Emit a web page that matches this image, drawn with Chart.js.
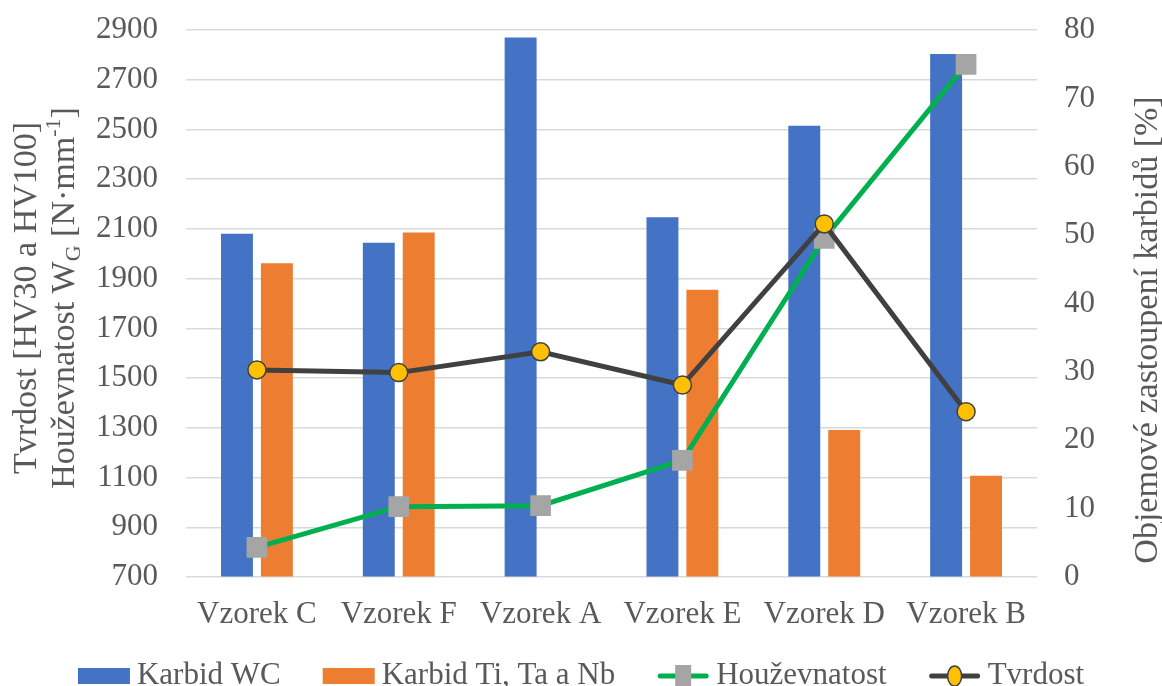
<!DOCTYPE html>
<html>
<head>
<meta charset="utf-8">
<script src="https://cdn.jsdelivr.net/npm/chart.js@4.4.1/dist/chart.umd.min.js"></script>
<style>
  html, body { margin: 0; padding: 0; background: #ffffff; }
  #wrap { width: 1162px; height: 686px; }
</style>
</head>
<body>
<div id="wrap"><canvas id="c" width="1162" height="686"></canvas></div>
<script>
// Samples and measured values
const categories = ['Vzorek C', 'Vzorek F', 'Vzorek A', 'Vzorek E', 'Vzorek D', 'Vzorek B'];
const karbidWC = [50.2, 48.9, 78.9, 52.6, 66.0, 76.5];          // % (right axis)
const karbidTiTaNb = [45.9, 50.4, null, 42.0, 21.5, 14.8];      // % (right axis)
const houzevnatost = [819, 983, 987, 1169, 2062, 2762];         // N·mm^-1 (left axis)
const tvrdost = [1533, 1522, 1606, 1472, 2120, 1365];           // HV (left axis)
const leftTicks = [700, 900, 1100, 1300, 1500, 1700, 1900, 2100, 2300, 2500, 2700, 2900];
const rightTicks = [0, 10, 20, 30, 40, 50, 60, 70, 80];

const FONT = '"Liberation Serif", "Times New Roman", serif';
const TEXT = '#595959';
const TICK_SIZE = 31;

// Axis titles with sub/superscripts, and the legend, drawn on the canvas
const decorations = {
  id: 'decorations',
  afterDraw(chart) {
    const ctx = chart.ctx;
    ctx.save();
    ctx.fillStyle = TEXT;
    ctx.textBaseline = 'alphabetic';

    // rich text run: [{t, size, dy}]
    function runWidth(parts) {
      let w = 0;
      parts.forEach(p => { ctx.font = p.size + 'px ' + FONT; w += ctx.measureText(p.t).width; });
      return w;
    }
    function drawRun(parts, x0) {
      let x = x0;
      parts.forEach(p => {
        ctx.font = p.size + 'px ' + FONT;
        ctx.fillText(p.t, x, p.dy || 0);
        x += ctx.measureText(p.t).width;
      });
    }
    function verticalRun(parts, baseX, centerY) {
      ctx.save();
      ctx.translate(baseX, centerY);
      ctx.rotate(-Math.PI / 2);
      const w = runWidth(parts);
      drawRun(parts, -w / 2);
      ctx.restore();
    }

    const s = 34;
    verticalRun([{ t: 'Tvrdost [HV30 a HV100]', size: s }], 36, 298);
    verticalRun([
      { t: 'Houževnatost W', size: s },
      { t: 'G', size: 22, dy: 6 },
      { t: ' [N·mm', size: s },
      { t: '-1', size: 22, dy: -14 },
      { t: ']', size: s }
    ], 74, 298);
    verticalRun([{ t: 'Objemové zastoupení karbidů [%]', size: s }], 1157, 330);

    // legend
    const items = [
      { kind: 'box', color: '#4472C4', text: 'Karbid WC' },
      { kind: 'box', color: '#ED7D31', text: 'Karbid Ti, Ta a Nb' },
      { kind: 'line', color: '#00B050', marker: 'rect', mcolor: '#A5A5A5', text: 'Houževnatost' },
      { kind: 'line', color: '#404040', marker: 'circle', mcolor: '#FFC000', text: 'Tvrdost' }
    ];
    const symW = 52, gapText = 7, gapItem = 42, ly = 676;
    ctx.font = TICK_SIZE + 'px ' + FONT;
    let total = 0;
    items.forEach((it, i) => {
      it.tw = ctx.measureText(it.text).width;
      total += symW + gapText + it.tw + (i < items.length - 1 ? gapItem : 0);
    });
    let x = (chart.width - total) / 2;
    items.forEach(it => {
      if (it.kind === 'box') {
        ctx.fillStyle = it.color;
        ctx.fillRect(x, ly - 8, symW, 16);
      } else {
        ctx.strokeStyle = it.color;
        ctx.lineWidth = 5;
        ctx.lineCap = 'round';
        ctx.beginPath();
        ctx.moveTo(x + 3, ly);
        ctx.lineTo(x + symW - 3, ly);
        ctx.stroke();
        const cx = x + symW / 2;
        if (it.marker === 'rect') {
          ctx.fillStyle = it.mcolor;
          ctx.fillRect(cx - 8, ly - 11, 16, 22);
        } else {
          ctx.fillStyle = it.mcolor;
          ctx.strokeStyle = '#404040';
          ctx.lineWidth = 1.5;
          ctx.beginPath();
          ctx.ellipse(cx, ly, 7, 10, 0, 0, Math.PI * 2);
          ctx.fill();
          ctx.stroke();
        }
      }
      ctx.fillStyle = TEXT;
      ctx.font = TICK_SIZE + 'px ' + FONT;
      ctx.textBaseline = 'middle';
      ctx.fillText(it.text, x + symW + gapText, ly);
      x += symW + gapText + it.tw + gapItem;
    });
    ctx.restore();
  }
};

const plainTick = v => String(v);

new Chart(document.getElementById('c'), {
  type: 'bar',
  data: {
    labels: categories,
    datasets: [
      {
        type: 'line', label: 'Tvrdost', data: tvrdost, yAxisID: 'y', order: 0,
        borderColor: '#404040', borderWidth: 5, pointStyle: 'circle', pointRadius: 9,
        pointBackgroundColor: '#FFC000', pointBorderColor: '#404040', pointBorderWidth: 1.5,
        tension: 0, fill: false
      },
      {
        type: 'line', label: 'Houževnatost', data: houzevnatost, yAxisID: 'y', order: 1,
        borderColor: '#00B050', borderWidth: 5, pointStyle: 'rect', pointRadius: 14.6,
        pointBackgroundColor: '#A5A5A5', pointBorderWidth: 0, pointBorderColor: '#A5A5A5',
        tension: 0, fill: false
      },
      {
        label: 'Karbid WC', data: karbidWC, yAxisID: 'y1', order: 2,
        backgroundColor: '#4472C4', barPercentage: 0.8, categoryPercentage: 0.563
      },
      {
        label: 'Karbid Ti, Ta a Nb', data: karbidTiTaNb, yAxisID: 'y1', order: 2,
        backgroundColor: '#ED7D31', barPercentage: 0.8, categoryPercentage: 0.563
      }
    ]
  },
  options: {
    responsive: false,
    animation: false,
    devicePixelRatio: 1,
    layout: { padding: { top: 30, left: 0, right: 0, bottom: 0 } },
    plugins: { legend: { display: false }, tooltip: { enabled: false } },
    scales: {
      x: {
        grid: { display: false },
        border: { display: false },
        ticks: { color: TEXT, font: { family: FONT, size: TICK_SIZE }, padding: 11 },
        afterFit(scale) { scale.height = 109; scale.paddingLeft = 0; scale.paddingRight = 0; }
      },
      y: {
        position: 'left', min: 700, max: 2900,
        afterBuildTicks(scale) { scale.ticks = leftTicks.map(v => ({ value: v })); },
        grid: { color: '#d9d9d9', lineWidth: 1.5, drawTicks: false },
        border: { display: false },
        ticks: { color: TEXT, font: { family: FONT, size: TICK_SIZE }, padding: 28, callback: plainTick },
        afterFit(scale) { scale.width = 186; scale.paddingTop = 0; scale.paddingBottom = 0; }
      },
      y1: {
        position: 'right', min: 0, max: 80,
        afterBuildTicks(scale) { scale.ticks = rightTicks.map(v => ({ value: v })); },
        grid: { drawOnChartArea: false, drawTicks: false },
        border: { display: false },
        ticks: { color: TEXT, font: { family: FONT, size: TICK_SIZE }, padding: 27, callback: plainTick },
        afterFit(scale) { scale.width = 125; scale.paddingTop = 0; scale.paddingBottom = 0; }
      }
    }
  },
  plugins: [decorations]
});
</script>
</body>
</html>
